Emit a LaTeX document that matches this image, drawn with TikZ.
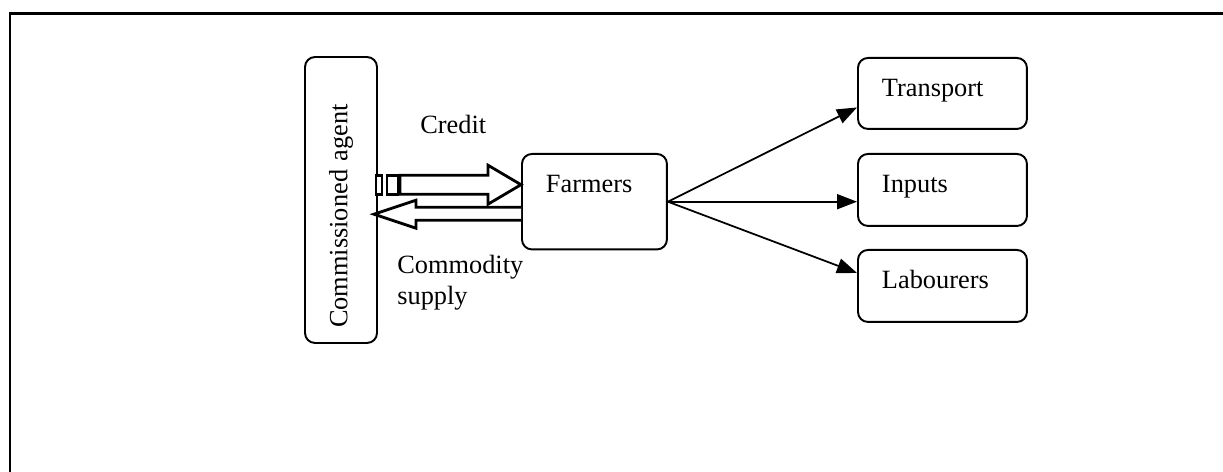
\documentclass[tikz,border=0pt]{standalone}
\usepackage{fontspec}
\setmainfont{Liberation Serif}
\usetikzlibrary{arrows.meta,calc}

\begin{document}
\begin{tikzpicture}[
    x=0.02cm, y=-0.02cm,
    font=\fontsize{15}{17.5}\selectfont,
    box/.style={draw, line width=1.1pt, rounded corners=0.2cm, align=left, inner xsep=0.48cm, inner ysep=0pt, text height=0.78cm, anchor=north west},
    link/.style={-{Triangle[length=0.4cm, width=0.3cm]}, line width=1pt},
    block/.style={draw, line width=1.6pt, fill=white, line join=miter}
]
    \useasboundingbox (0,0) rectangle (1223,472);
    % Frame
    \draw[line width=1.7pt] (1223,14) -- (10,14) -- (10,472);

    % Agent node
    \node[draw, line width=1.1pt, rounded corners=0.2cm, rotate=90, text width=5.12cm, align=left, inner xsep=0.3cm, inner ysep=0pt, minimum height=1.44cm] (agent) at (341,200) {Commissioned agent};

    % Farmers node
    \node[box, text width=1.94cm, text depth=1.13cm] (farmers) at (521,153) {Farmers};

    % Right column
    \node[box, text width=2.42cm, text depth=0.64cm] (transport) at (857,57) {Transport};
    \node[box, text width=2.42cm, text depth=0.66cm] (inputs) at (857,153) {Inputs};
    \node[box, text width=2.42cm, text depth=0.66cm] (labourers) at (857,249) {Labourers};

    % Links
    \draw[link] (farmers.east) -- ($(transport.west)+(0,14)$);
    \draw[link] (farmers.east) -- (farmers.east -| inputs.west);
    \draw[link] (farmers.east) -- ($(labourers.west)+(0,-13)$);

    % Credit (striped block arrow)
    \coordinate (credittip) at ($(farmers.west)+(0,-17)$);
    \draw[block] (credittip) -- ++(-33,-19.5) -- ++(0,10) -- ++(-88,0) -- ++(0,19) -- ++(88,0) -- ++(0,10) -- cycle;
    \draw[block] ($(credittip)+(-145,-9.5)$) rectangle ++(6,19);
    \draw[block] ($(credittip)+(-134,-9.5)$) rectangle ++(11,19);

    % Commodity supply (block arrow)
    \draw[block] ($(farmers.west)+(0,5.5)$) -- ++(-105,0) -- ++(0,-7) -- ++(-42,14) -- ++(42,14) -- ++(0,-8) -- ++(105,0);

    % Labels
    \node[anchor=base west, inner sep=0] (credit) at (420,134) {Credit};
    \node[anchor=north west, align=left, inner sep=0] (supply) at (397,255) {Commodity\\supply};
\end{tikzpicture}
\end{document}
